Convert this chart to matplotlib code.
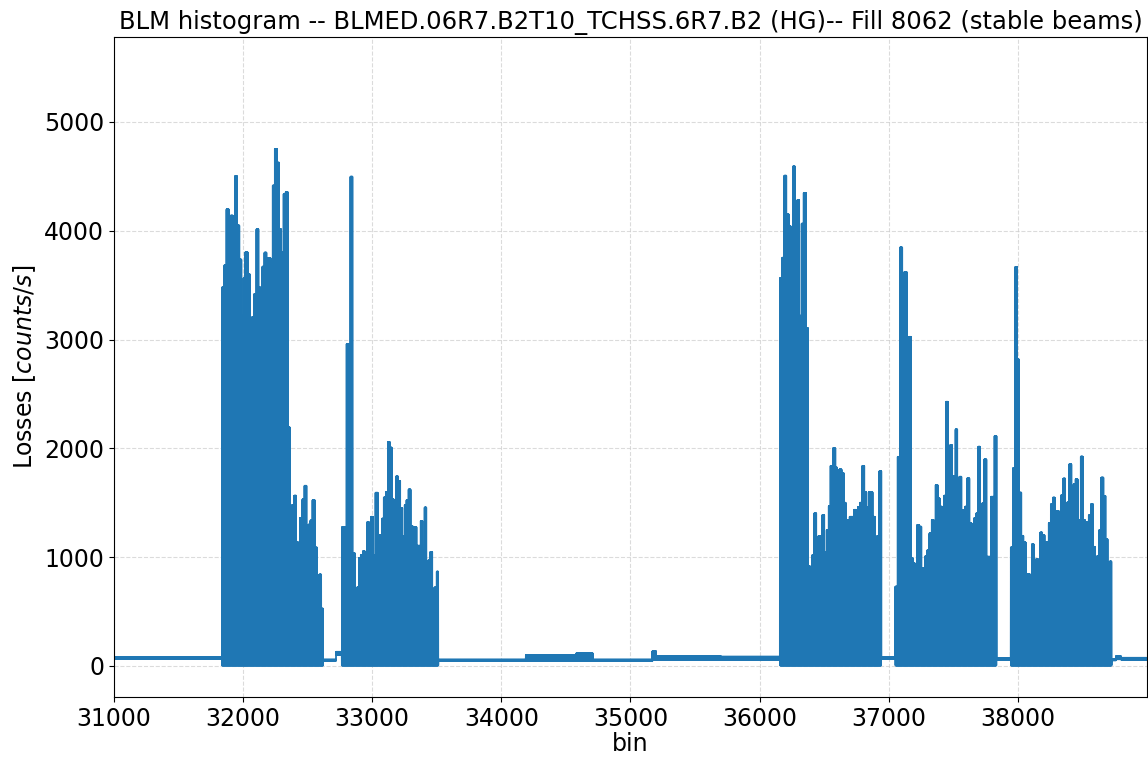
import numpy as np
import matplotlib
matplotlib.use("Agg")
import matplotlib.pyplot as plt

# bunch trains: start bin of each step, peak losses of that step, end bin
train1_start = [31837, 31855, 31871, 31889, 31904, 31922, 31938, 31953, 31972, 31987,
                32003, 32018, 32036, 32054, 32070, 32085, 32103, 32119, 32134, 32150,
                32165, 32181, 32214, 32230, 32245, 32264, 32279, 32295, 32313, 32329,
                32347, 32362, 32380, 32396, 32411, 32426, 32442, 32460, 32475, 32491,
                32506, 32522, 32537, 32556, 32574, 32589, 32605]
train1_peak = [3480, 3684, 4197, 3871, 4139, 3429, 4503, 4048, 3735, 3224,
               3565, 3803, 3599, 2891, 3207, 3418, 4014, 3480, 3214, 3670,
               3799, 3748, 3524, 4415, 4752, 4626, 4014, 3799, 4337, 4354,
               2194, 1469, 1480, 1565, 1139, 1027, 1361, 1531, 1656, 1139,
               1299, 1337, 1524, 1088, 782, 840, 527]
train1_end = 32620

train2_start = [32765, 32801, 32817, 32832, 32848, 32866, 32881, 32897, 32912, 32928,
                32943, 32959, 32977, 32992, 33008, 33026, 33044, 33059, 33075, 33090,
                33106, 33121, 33137, 33152, 33168, 33183, 33202, 33217, 33233, 33251,
                33266, 33282, 33297, 33313, 33329, 33344, 33359, 33375, 33390, 33405,
                33419, 33434, 33450, 33465, 33481, 33499]
train2_peak = [1276, 2959, 2408, 4497, 1037, 714, 721, 993, 1020, 1054,
               816, 1320, 1095, 1371, 1014, 1592, 1200, 1200, 1354, 1548,
               1599, 2058, 2007, 1531, 1524, 1741, 1701, 1452, 1190, 1480,
               1524, 1622, 1286, 1037, 1276, 1105, 1105, 1333, 986, 1456,
               925, 969, 1048, 544, 721, 867]
train2_end = 33512

train3_start = [36158, 36176, 36191, 36207, 36225, 36243, 36258, 36276, 36292, 36307,
                36326, 36341, 36359, 36375, 36390, 36406, 36424, 36439, 36455, 36470,
                36486, 36501, 36519, 36535, 36550, 36568, 36587, 36602, 36618, 36636,
                36651, 36667, 36682, 36698, 36716, 36731, 36747, 36762, 36778, 36796,
                36811, 36827, 36845, 36860, 36876, 36894, 36910, 36928]
train3_peak = [3565, 3752, 4506, 4152, 4039, 3532, 4590, 4252, 4281, 3219,
               4065, 4348, 3106, 919, 845, 1016, 1403, 1097, 1194, 1026,
               1387, 1048, 1248, 1468, 1839, 2000, 1823, 1565, 1806, 1774,
               1500, 1323, 1339, 1371, 1371, 1435, 1161, 1461, 1500, 1839,
               1597, 1461, 1597, 1597, 1371, 1006, 1194, 1790]
train3_end = 36943

train4_start = [37052, 37070, 37088, 37106, 37121, 37140, 37158, 37173, 37189, 37204,
                37220, 37238, 37253, 37269, 37284, 37300, 37315, 37333, 37349, 37364,
                37380, 37395, 37413, 37429, 37444, 37460, 37475, 37491, 37506, 37517,
                37532, 37548, 37563, 37574, 37592, 37607, 37625, 37643, 37659, 37677,
                37693, 37708, 37724, 37739, 37757, 37791, 37819]
train4_peak = [729, 1922, 3846, 3031, 3622, 1800, 3025, 989, 943, 744,
               1295, 1280, 897, 759, 1010, 1065, 1219, 1341, 1317, 1663,
               1540, 1464, 1387, 1565, 2428, 1892, 2030, 1745, 1740, 2174,
               1372, 1739, 1142, 1433, 1464, 1724, 1310, 1127, 1356, 1402,
               2015, 1209, 1494, 1898, 1004, 1555, 2113]
train4_end = 37835

train5_start = [37946, 37961, 37979, 37995, 38010, 38028, 38044, 38062, 38078, 38093,
                38109, 38124, 38142, 38158, 38173, 38189, 38207, 38222, 38240, 38256,
                38271, 38287, 38302, 38318, 38336, 38351, 38367, 38382, 38398, 38416,
                38432, 38447, 38463, 38478, 38488, 38504, 38519, 38535, 38550, 38566,
                38584, 38600, 38615, 38630, 38646, 38664, 38680, 38695, 38711]
train5_peak = [1089, 1817, 3667, 2817, 1593, 1196, 1135, 722, 844, 768,
               1119, 936, 982, 645, 1226, 1202, 1135, 1135, 1312, 1486,
               1547, 1251, 1425, 1272, 1569, 1722, 1404, 1502, 1853, 1648,
               1670, 1716, 1226, 1343, 1924, 1343, 1324, 1242, 1385, 1486,
               1095, 982, 1012, 1248, 1731, 1563, 1165, 590, 960]
train5_end = 38726

train_floor = 5

# background level outside the trains (upper / lower edge of the noise band)
base_start = [31000, 32620, 32720, 33512, 34190, 34580, 34710, 35170, 35200, 35700,
              36943, 37835, 38726, 38760, 38800]
base_end = [31837, 32720, 32765, 34190, 34580, 34710, 35170, 35200, 35700, 36158,
            37052, 37946, 38760, 38800, 39000]
base_high = [80, 58, 130, 58, 100, 115, 58, 135, 92, 85, 80, 70, 65, 90, 75]
base_low = [65, 48, 105, 45, 45, 50, 44, 55, 55, 58, 65, 58, 52, 62, 58]

bins = np.arange(31000, 39000)
loss = np.zeros(len(bins))
even = bins % 2 == 0

for s, e, hi, lo in zip(base_start, base_end, base_high, base_low):
    m = (bins >= s) & (bins < e)
    loss[m] = np.where(even[m], hi, lo)

trains = [(train1_start, train1_peak, train1_end),
          (train2_start, train2_peak, train2_end),
          (train3_start, train3_peak, train3_end),
          (train4_start, train4_peak, train4_end),
          (train5_start, train5_peak, train5_end)]
for starts, peaks, end in trains:
    edges = starts + [end]
    for i, p in enumerate(peaks):
        m = (bins >= edges[i]) & (bins < edges[i + 1])
        loss[m] = np.where(even[m], p, train_floor)

fig = plt.figure(figsize=(11.48, 7.57), dpi=100)
ax = fig.add_axes([0.0993, 0.0793, 0.8998, 0.8717])
ax.plot(bins, loss, color="#1f77b4", lw=1.3)
ax.set_xlim(31000, 39000)
ax.set_ylim(-285, 5780)
ax.set_xticks(np.arange(31000, 39000, 1000))
ax.set_yticks(np.arange(0, 5001, 1000))
ax.grid(True, ls="--", color="#cccccc", lw=0.8, alpha=0.7)
ax.tick_params(labelsize=17)
ax.set_xlabel("bin", fontsize=17, labelpad=1)
ax.set_ylabel(r"Losses [$counts/s$]", fontsize=17)
ax.set_title("BLM histogram -- BLMED.06R7.B2T10_TCHSS.6R7.B2 (HG)-- Fill 8062 (stable beams)",
             fontsize=17.5)

fig.savefig("out.png", dpi=100)
